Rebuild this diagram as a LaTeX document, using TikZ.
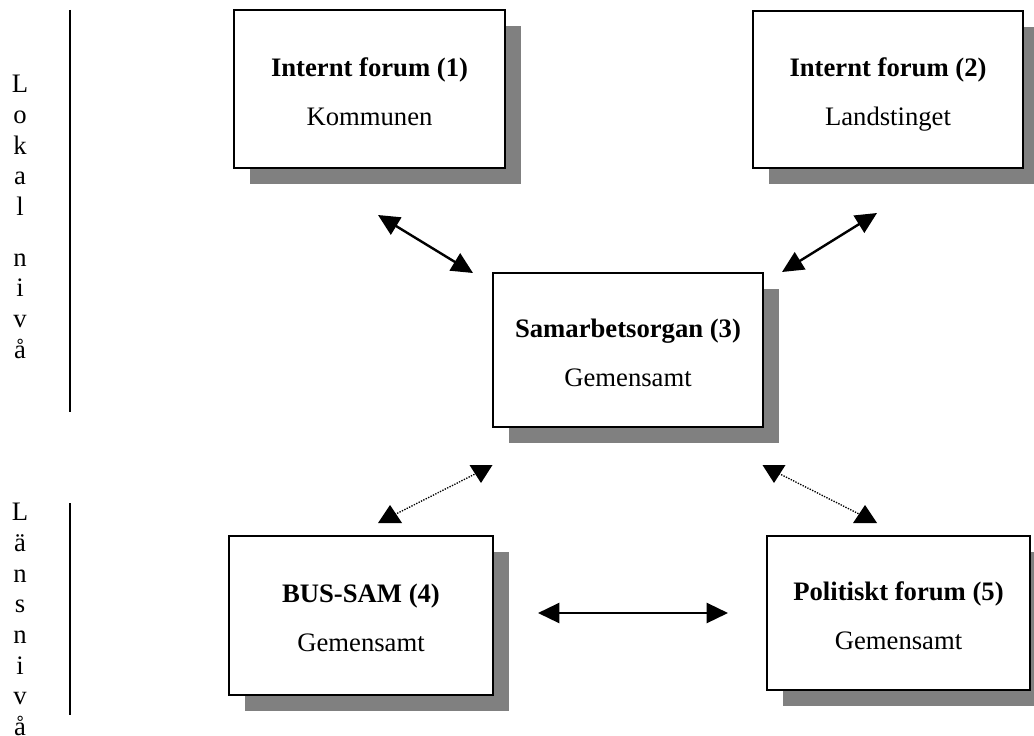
\documentclass[tikz,border=0pt]{standalone}
\usepackage{fontspec}
\setmainfont{Liberation Serif}
\usetikzlibrary{arrows.meta,shadows}
\newcommand{\boxtext}[2]{\rule{0pt}{22pt}\textbf{#1}\\[14pt]#2\rule[-4.5pt]{0pt}{4.5pt}}
\newcommand{\tipdown}[1]{\fill (#1) ++(0,12) -- ++(-11.5,-18) -- ++(23,0) -- cycle;}
\newcommand{\tipup}[1]{\fill (#1) ++(0,-12) -- ++(-12,18) -- ++(24,0) -- cycle;}

\tikzset{
  forum/.style={draw, line width=1.8pt, fill=white, align=center,
    minimum width=202.5pt, minimum height=117.75pt, inner sep=0pt,
    font=\fontsize{20}{23}\selectfont,
    drop shadow={shadow xshift=12pt, shadow yshift=-12pt, fill=black!50, opacity=1}},
  side/.style={align=center, inner sep=0pt, font=\fontsize{20}{23}\selectfont},
  link/.style={line width=1.8pt, {Triangle[length=16pt,width=15pt]}-{Triangle[length=16pt,width=15pt]}},
  weak/.style={densely dotted, line width=1pt},
}

\begin{document}
\begin{tikzpicture}[x=0.75pt,y=-0.75pt]
  \clip (0,0) rectangle (1034,735);
  % nivaer
  \node[side,anchor=north] (lokal) at (20,75) {L\\o\\k\\a\\l\\[15pt]n\\i\\v\\å};
  \node[side,anchor=north] (lan) at (20,503) {L\\ä\\n\\s\\n\\i\\v\\å};
  \draw[line width=1pt] (70,10) -- (70,412);
  \draw[line width=1pt] (70,503) -- (70,715);
  % forum
  \node[forum, minimum width=203.25pt, minimum height=118.5pt] (kommun) at (369.5,89)
     {\boxtext{Internt forum (1)}{Kommunen}};
  \node[forum] (landst) at (888,89.5)
     {\boxtext{Internt forum (2)}{Landstinget}};
  \node[forum, minimum height=115.5pt] (samorg) at (628,350)
     {\boxtext{Samarbetsorgan (3)}{Gemensamt}};
  \node[forum, minimum width=198pt, minimum height=119.25pt] (bussam) at (361,615.5)
     {\boxtext{BUS-SAM (4)}{Gemensamt}};
  \node[forum, minimum width=197.25pt, minimum height=115.5pt] (polit) at (898.5,613)
     {\boxtext{Politiskt forum (5)}{Gemensamt}};
  % pilar
  \coordinate (k1) at (378,215);  \coordinate (k3) at (473,273);
  \coordinate (l2) at (877,213);  \coordinate (l3) at (782,272);
  \coordinate (b4) at (538,613);  \coordinate (p5) at (728,613);
  \coordinate (s34) at (481,471); \coordinate (b43) at (390,517);
  \coordinate (s35) at (774,471); \coordinate (p53) at (865,517);
  \draw[link] (k1) -- (k3);
  \draw[link] (l2) -- (l3);
  \draw[link] (b4) -- (p5);
  \draw[weak] (b43) -- (s34);
  \draw[weak] (s35) -- (p53);
  \tipdown{s34} \tipup{b43}
  \tipdown{s35} \tipup{p53}
\end{tikzpicture}
\end{document}
